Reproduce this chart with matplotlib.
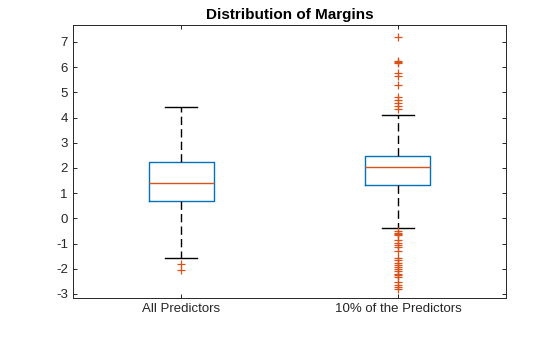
import matplotlib
matplotlib.use("Agg")
import matplotlib.pyplot as plt

plt.rcParams["font.family"] = ["Liberation Sans", "DejaVu Sans"]
plt.rcParams["axes.unicode_minus"] = False

# box statistics
labels   = ["All Predictors", "10% of the Predictors"]
medians  = [1.39, 2.05]
q1       = [0.67, 1.32]
q3       = [2.22, 2.49]
wlo      = [-1.59, -0.40]
whi      = [4.40, 4.12]
fliers_all = [-1.83, -2.06]
fliers_10  = [7.20, 6.25, 6.20, 6.15, 5.77, 5.66, 5.28, 4.81, 4.68, 4.58,
              4.44, 4.34,
              -0.52, -0.57, -0.62, -0.65, -0.87, -0.97, -1.05, -1.14, -1.31,
              -1.56, -1.67, -1.76, -1.84, -1.93, -2.02, -2.10, -2.20, -2.26,
              -2.33, -2.53, -2.63, -2.72, -2.82]
fliers = [fliers_all, fliers_10]

BLUE = "#0072BD"
ORANGE = "#D95319"

stats = []
for i in range(2):
    stats.append(dict(med=medians[i], q1=q1[i], q3=q3[i],
                      whislo=wlo[i], whishi=whi[i], fliers=fliers[i],
                      label=labels[i]))

fig = plt.figure(figsize=(5.6, 3.37), dpi=100)
ax = fig.add_axes([0.130, 0.1157, 0.774, 0.810])

ax.bxp(stats, positions=[1, 2], widths=0.3, showfliers=True,
       boxprops=dict(color=BLUE, linewidth=1.0),
       medianprops=dict(color=ORANGE, linewidth=1.0),
       whiskerprops=dict(color="black", linewidth=1.0, linestyle=(0, (6, 3))),
       capprops=dict(color="black", linewidth=1.0),
       capwidths=0.15,
       flierprops=dict(marker="+", markeredgecolor=ORANGE, markersize=6,
                       markeredgewidth=0.9, linestyle="none"))

ax.set_xlim(0.5, 2.5)
ax.set_ylim(-3.16, 7.67)
ax.set_yticks(range(-3, 8))
ax.tick_params(direction="in", top=True, right=True, labelsize=9.5,
               length=3, width=0.7, colors="#262626")
for s in ax.spines.values():
    s.set_linewidth(0.7)
    s.set_color("#262626")
ax.set_title("Distribution of Margins", fontsize=11, fontweight="bold", pad=4)

fig.savefig("out.png", dpi=100)
